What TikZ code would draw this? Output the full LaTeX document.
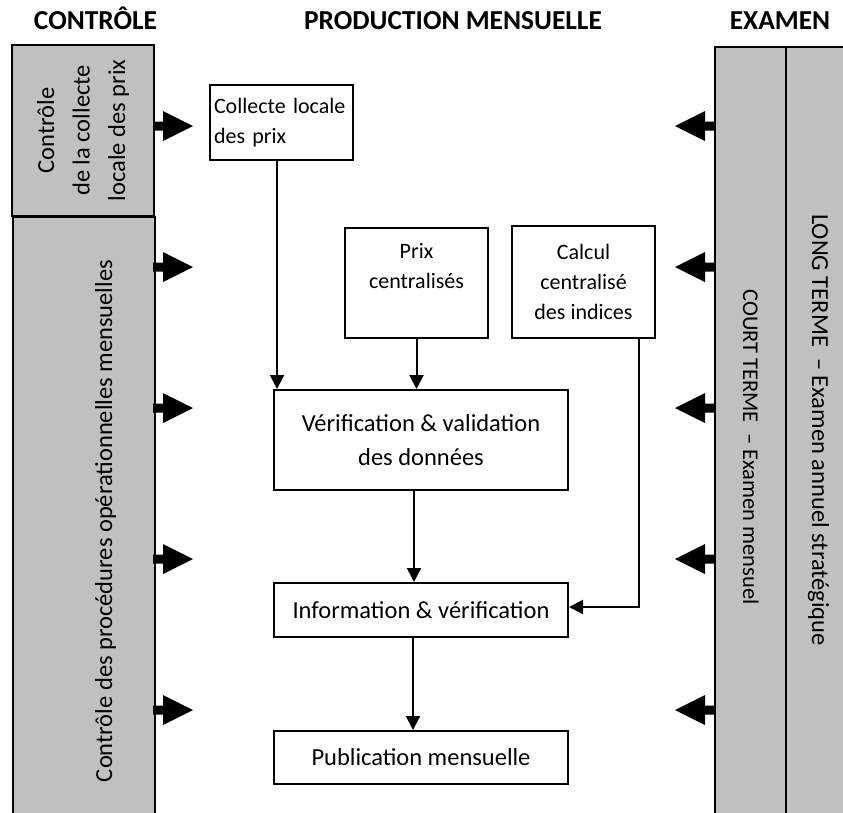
\documentclass[tikz,border=0pt]{standalone}
\usepackage{fontspec}
\setmainfont{Carlito}
\usetikzlibrary{arrows.meta,positioning}
\definecolor{panelgray}{RGB}{192,192,192}
\tikzset{
  panel/.style={draw, line width=2pt, fill=panelgray, inner sep=0pt},
  bigbox/.style={draw, line width=2pt, minimum width=294, inner sep=0pt, align=center, font=\fontsize{24.5}{34}\selectfont},
  smallbox/.style={draw, line width=2pt, minimum width=143, inner sep=0pt, font=\fontsize{22}{30}\selectfont},
  smalltxt/.style={inner sep=0pt, align=center, font=\fontsize{22}{30}\selectfont},
  vtext/.style={inner sep=0pt, align=center, font=\fontsize{24.5}{35.5}\selectfont},
  title/.style={anchor=base, font=\fontsize{27.4}{30}\selectfont\bfseries},
  flow/.style={line width=2pt, -{Triangle[length=14pt,width=14pt]}},
}
\begin{document}
\begin{tikzpicture}[x=1pt, y=-1pt]
\useasboundingbox (0,0) rectangle (843,812);
% titres
\node[title] (tctrl) at (95.5,29) {CONTRÔLE};
\node[title] (tprod) at (453,29) {PRODUCTION MENSUELLE};
\node[title] (texam) at (780,29) {EXAMEN};

% colonnes grises
\node[panel, vtext, rotate=90, minimum width=171, minimum height=142] (ctrlA) at (83,130.5) {Contrôle\\de la collecte\\locale des prix};
\node[panel, minimum width=142, minimum height=620, anchor=north west] (ctrlB) at (12,216) {};
\node[panel, minimum width=71, minimum height=790, anchor=north west] (court) at (714,46) {};
\node[panel, minimum width=70, minimum height=790, anchor=north west] (long) at (785,46) {};
\node[vtext, rotate=90, anchor=base] (ctrlBtxt) at (112,521) {Contrôle des procédures opérationnelles mensuelles};
\node[vtext, rotate=-90, anchor=base, font=\fontsize{22.5}{30}\selectfont] (courttxt) at (743,447) {COURT TERME~~– Examen mensuel};
\node[vtext, rotate=-90, anchor=base] (longtxt) at (812,430) {LONG TERME~~– Examen annuel stratégique};

% grosses fleches
\foreach \y in {126,267,408,559,710}{
  \fill (153,\y-4.5) -- (163,\y-4.5) -- (163,\y-15) -- (193,\y) -- (163,\y+15) -- (163,\y+4.5) -- (153,\y+4.5) -- cycle;
  \fill (715,\y-4.5) -- (705,\y-4.5) -- (705,\y-15) -- (675,\y) -- (705,\y+15) -- (705,\y+4.5) -- (715,\y+4.5) -- cycle;
}

% production mensuelle
\node[smallbox, minimum height=75, text width=135, align=left] (collecte) at (281.5,122.5) {Collecte locale\\des prix};
\node[smallbox, minimum height=110] (prix) at (416.5,283) {};
\node[smalltxt, below=16.5pt of prix.north] (prixtxt) {Prix\\centralisés};
\node[smallbox, minimum height=112, align=center] (calcul) at (583.5,282) {Calcul\\centralisé\\des indices};
\node[bigbox, minimum height=100] (verif) at (421,440) {Vérification \& validation\\des données};
\node[bigbox, minimum height=54] (info) at (421,610) {Information \& vérification};
\node[bigbox, minimum height=53] (pub) at (421,757.5) {Publication mensuelle};

\draw[flow] ([xshift=-4.5pt]collecte.south) -- ([xshift=-4.5pt]collecte.south |- verif.north);
\draw[flow] (prix.south) -- (prix.south |- verif.north);
\draw[flow] ([xshift=-7pt]verif.south) -- ([xshift=-7pt]verif.south |- info.north);
\draw[flow] ([xshift=-17pt]calcul.south east) |- ([yshift=3pt]info.east);
\draw[flow] ([xshift=-8pt]info.south) -- ([xshift=-8pt]info.south |- pub.north);
\end{tikzpicture}
\end{document}
